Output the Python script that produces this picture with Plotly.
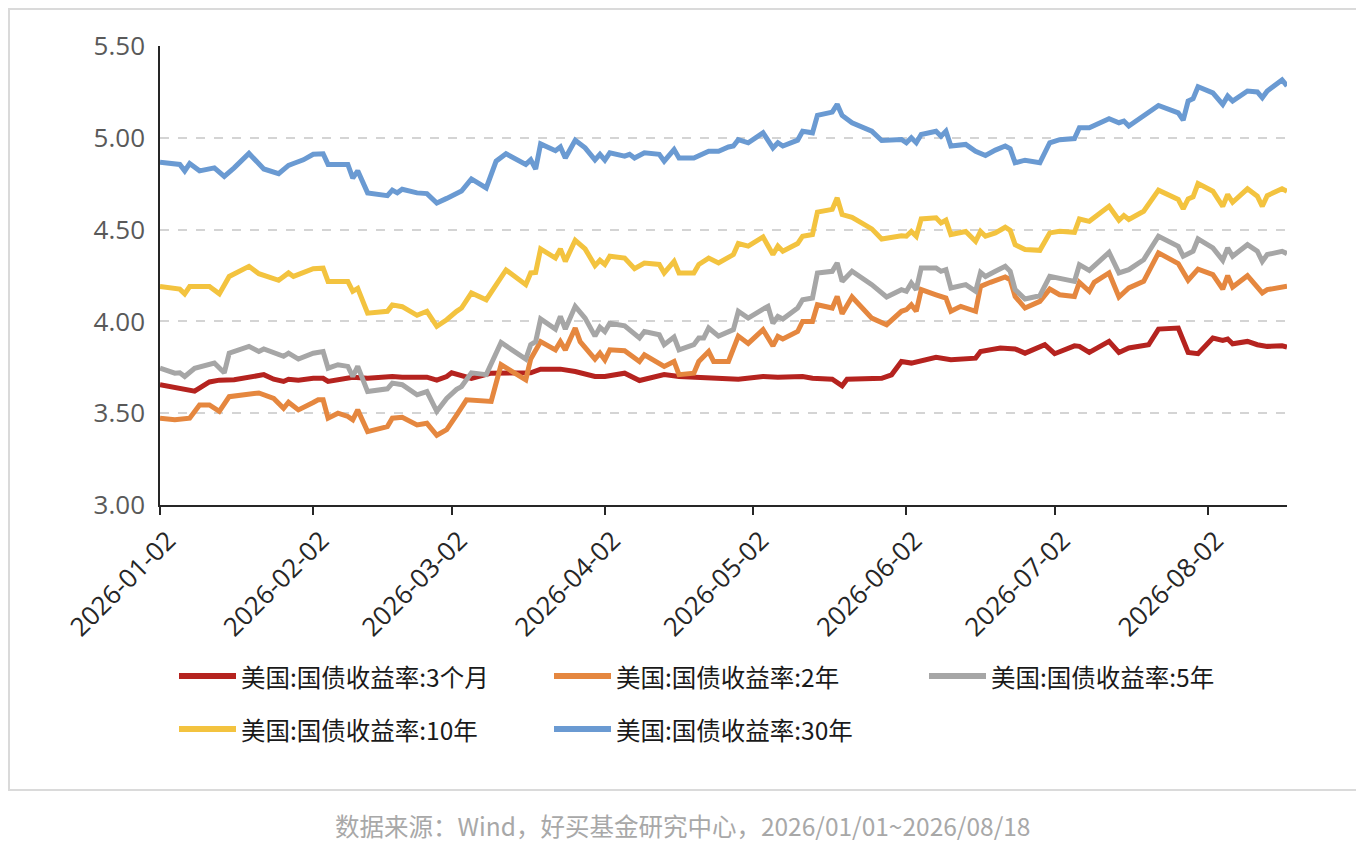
import plotly.graph_objects as go

# ---- data (US treasury yields, %) ----
dates_3m = ["2026-01-02", "2026-01-05", "2026-01-07", "2026-01-09", "2026-01-12", "2026-01-14",
            "2026-01-17", "2026-01-21", "2026-01-23", "2026-01-25", "2026-01-27", "2026-01-28",
            "2026-01-30", "2026-02-02", "2026-02-04", "2026-02-05", "2026-02-08", "2026-02-10",
            "2026-02-13", "2026-02-18", "2026-02-20", "2026-02-25", "2026-02-27", "2026-03-01",
            "2026-03-02", "2026-03-06", "2026-03-10", "2026-03-18", "2026-03-20", "2026-03-24",
            "2026-03-27", "2026-03-31", "2026-04-02", "2026-04-06", "2026-04-09", "2026-04-14",
            "2026-04-17", "2026-04-21", "2026-04-27", "2026-04-29", "2026-05-04", "2026-05-07",
            "2026-05-12", "2026-05-14", "2026-05-18", "2026-05-20", "2026-05-21", "2026-05-28",
            "2026-05-30", "2026-06-01", "2026-06-03", "2026-06-08", "2026-06-11", "2026-06-16",
            "2026-06-17", "2026-06-21", "2026-06-24", "2026-06-26", "2026-06-30", "2026-07-02",
            "2026-07-06", "2026-07-07", "2026-07-09", "2026-07-13", "2026-07-15", "2026-07-17",
            "2026-07-21", "2026-07-23", "2026-07-27", "2026-07-29", "2026-07-31", "2026-08-03",
            "2026-08-05", "2026-08-06", "2026-08-07", "2026-08-10", "2026-08-12", "2026-08-14",
            "2026-08-17", "2026-08-18"]
yld_3m = [3.655, 3.64, 3.627, 3.62, 3.67, 3.68,
          3.682, 3.70, 3.71, 3.685, 3.673, 3.685,
          3.68, 3.69, 3.69, 3.673, 3.685, 3.696,
          3.69, 3.70, 3.696, 3.696, 3.68, 3.70,
          3.72, 3.69, 3.718, 3.72, 3.74, 3.74,
          3.727, 3.70, 3.70, 3.718, 3.678, 3.71,
          3.70, 3.696, 3.685, 3.685, 3.70, 3.696,
          3.70, 3.69, 3.685, 3.649, 3.685, 3.69,
          3.709, 3.782, 3.773, 3.805, 3.791, 3.80,
          3.836, 3.855, 3.85, 3.827, 3.873, 3.824,
          3.867, 3.864, 3.831, 3.891, 3.831, 3.855,
          3.873, 3.958, 3.964, 3.831, 3.824, 3.909,
          3.896, 3.904, 3.878, 3.891, 3.873, 3.864,
          3.867, 3.86]

dates_2y = ["2026-01-02", "2026-01-05", "2026-01-08", "2026-01-10", "2026-01-12", "2026-01-14",
            "2026-01-16", "2026-01-19", "2026-01-22", "2026-01-25", "2026-01-27", "2026-01-28",
            "2026-01-30", "2026-02-02", "2026-02-03", "2026-02-04", "2026-02-05", "2026-02-07",
            "2026-02-09", "2026-02-10", "2026-02-11", "2026-02-13", "2026-02-17", "2026-02-18",
            "2026-02-20", "2026-02-23", "2026-02-25", "2026-02-27", "2026-03-01", "2026-03-03",
            "2026-03-05", "2026-03-10", "2026-03-12", "2026-03-17", "2026-03-18", "2026-03-20",
            "2026-03-23", "2026-03-24", "2026-03-25", "2026-03-27", "2026-03-28", "2026-03-31",
            "2026-04-01", "2026-04-02", "2026-04-03", "2026-04-06", "2026-04-09", "2026-04-10",
            "2026-04-14", "2026-04-16", "2026-04-17", "2026-04-20", "2026-04-21", "2026-04-23",
            "2026-04-24", "2026-04-27", "2026-04-29", "2026-05-01", "2026-05-04", "2026-05-06",
            "2026-05-07", "2026-05-08", "2026-05-11", "2026-05-12", "2026-05-14", "2026-05-15",
            "2026-05-18", "2026-05-19", "2026-05-20", "2026-05-22", "2026-05-26", "2026-05-29",
            "2026-06-01", "2026-06-02", "2026-06-03", "2026-06-04", "2026-06-05", "2026-06-08",
            "2026-06-10", "2026-06-11", "2026-06-13", "2026-06-16", "2026-06-17", "2026-06-19",
            "2026-06-22", "2026-06-23", "2026-06-24", "2026-06-26", "2026-06-29", "2026-07-01",
            "2026-07-03", "2026-07-06", "2026-07-07", "2026-07-09", "2026-07-10", "2026-07-13",
            "2026-07-15", "2026-07-17", "2026-07-20", "2026-07-23", "2026-07-27", "2026-07-29",
            "2026-07-31", "2026-08-03", "2026-08-05", "2026-08-06", "2026-08-07", "2026-08-10",
            "2026-08-13", "2026-08-14", "2026-08-17", "2026-08-18"]
yld_2y = [3.473, 3.464, 3.473, 3.545, 3.545, 3.51,
          3.59, 3.60, 3.61, 3.58, 3.527, 3.56,
          3.518, 3.558, 3.573, 3.573, 3.473, 3.50,
          3.482, 3.464, 3.518, 3.40, 3.427, 3.473,
          3.478, 3.436, 3.445, 3.38, 3.41, 3.49,
          3.573, 3.564, 3.764, 3.682, 3.795, 3.89,
          3.845, 3.89, 3.845, 3.964, 3.89, 3.795,
          3.827, 3.79, 3.845, 3.84, 3.782, 3.818,
          3.755, 3.782, 3.71, 3.718, 3.782, 3.836,
          3.782, 3.782, 3.92, 3.88, 3.955, 3.867,
          3.918, 3.904, 3.945, 4.00, 4.00, 4.091,
          4.073, 4.136, 4.042, 4.133, 4.018, 3.982,
          4.055, 4.064, 4.091, 4.055, 4.173, 4.145,
          4.127, 4.055, 4.082, 4.055, 4.191, 4.213,
          4.242, 4.227, 4.136, 4.073, 4.109, 4.176,
          4.145, 4.136, 4.213, 4.164, 4.213, 4.264,
          4.133, 4.182, 4.218, 4.373, 4.315, 4.224,
          4.285, 4.255, 4.176, 4.249, 4.187, 4.249,
          4.155, 4.173, 4.191, 4.191]

dates_5y = ["2026-01-02", "2026-01-05", "2026-01-06", "2026-01-07", "2026-01-09", "2026-01-13",
            "2026-01-15", "2026-01-16", "2026-01-20", "2026-01-22", "2026-01-23", "2026-01-27",
            "2026-01-28", "2026-01-30", "2026-02-02", "2026-02-04", "2026-02-05", "2026-02-07",
            "2026-02-09", "2026-02-10", "2026-02-11", "2026-02-13", "2026-02-17", "2026-02-18",
            "2026-02-20", "2026-02-23", "2026-02-25", "2026-02-27", "2026-03-01", "2026-03-03",
            "2026-03-04", "2026-03-06", "2026-03-09", "2026-03-12", "2026-03-17", "2026-03-18",
            "2026-03-19", "2026-03-20", "2026-03-23", "2026-03-24", "2026-03-25", "2026-03-27",
            "2026-03-29", "2026-03-31", "2026-04-01", "2026-04-02", "2026-04-03", "2026-04-06",
            "2026-04-09", "2026-04-10", "2026-04-13", "2026-04-14", "2026-04-16", "2026-04-17",
            "2026-04-20", "2026-04-21", "2026-04-22", "2026-04-23", "2026-04-25", "2026-04-28",
            "2026-04-29", "2026-05-01", "2026-05-04", "2026-05-05", "2026-05-06", "2026-05-07",
            "2026-05-08", "2026-05-11", "2026-05-12", "2026-05-14", "2026-05-15", "2026-05-18",
            "2026-05-19", "2026-05-20", "2026-05-22", "2026-05-26", "2026-05-29", "2026-06-01",
            "2026-06-02", "2026-06-03", "2026-06-04", "2026-06-05", "2026-06-08", "2026-06-09",
            "2026-06-10", "2026-06-11", "2026-06-14", "2026-06-16", "2026-06-17", "2026-06-18",
            "2026-06-20", "2026-06-22", "2026-06-23", "2026-06-24", "2026-06-26", "2026-06-29",
            "2026-07-01", "2026-07-06", "2026-07-07", "2026-07-09", "2026-07-13", "2026-07-15",
            "2026-07-17", "2026-07-20", "2026-07-23", "2026-07-27", "2026-07-28", "2026-07-30",
            "2026-07-31", "2026-08-03", "2026-08-05", "2026-08-06", "2026-08-07", "2026-08-10",
            "2026-08-12", "2026-08-13", "2026-08-14", "2026-08-17", "2026-08-18"]
yld_5y = [3.745, 3.718, 3.72, 3.70, 3.745, 3.773,
          3.72, 3.827, 3.864, 3.836, 3.85, 3.81,
          3.827, 3.795, 3.827, 3.836, 3.745, 3.764,
          3.755, 3.70, 3.755, 3.618, 3.633, 3.664,
          3.655, 3.60, 3.618, 3.51, 3.58, 3.63,
          3.645, 3.72, 3.71, 3.885, 3.795, 3.873,
          3.89, 4.013, 3.958, 4.027, 3.958, 4.082,
          4.018, 3.92, 3.969, 3.945, 3.99, 3.976,
          3.91, 3.945, 3.927, 3.873, 3.915, 3.845,
          3.873, 3.91, 3.91, 3.964, 3.92, 3.955,
          4.055, 4.018, 4.067, 4.082, 3.99, 4.027,
          4.013, 4.073, 4.118, 4.127, 4.264, 4.273,
          4.318, 4.218, 4.273, 4.20, 4.133, 4.173,
          4.164, 4.209, 4.173, 4.291, 4.291, 4.273,
          4.282, 4.182, 4.20, 4.164, 4.267, 4.245,
          4.273, 4.30, 4.273, 4.173, 4.122, 4.14,
          4.245, 4.218, 4.309, 4.278, 4.376, 4.264,
          4.282, 4.336, 4.464, 4.409, 4.355, 4.382,
          4.449, 4.40, 4.333, 4.40, 4.355, 4.418,
          4.382, 4.327, 4.364, 4.382, 4.369]

dates_10y = ["2026-01-02", "2026-01-05", "2026-01-06", "2026-01-07", "2026-01-08", "2026-01-12",
             "2026-01-14", "2026-01-16", "2026-01-20", "2026-01-22", "2026-01-23", "2026-01-26",
             "2026-01-28", "2026-01-29", "2026-02-02", "2026-02-04", "2026-02-05", "2026-02-09",
             "2026-02-10", "2026-02-11", "2026-02-13", "2026-02-17", "2026-02-18", "2026-02-20",
             "2026-02-23", "2026-02-25", "2026-02-27", "2026-03-01", "2026-03-03", "2026-03-04",
             "2026-03-06", "2026-03-09", "2026-03-13", "2026-03-17", "2026-03-18", "2026-03-19",
             "2026-03-20", "2026-03-23", "2026-03-24", "2026-03-25", "2026-03-27", "2026-03-29",
             "2026-03-31", "2026-04-01", "2026-04-02", "2026-04-03", "2026-04-06", "2026-04-08",
             "2026-04-10", "2026-04-13", "2026-04-14", "2026-04-16", "2026-04-17", "2026-04-20",
             "2026-04-21", "2026-04-23", "2026-04-25", "2026-04-28", "2026-04-29", "2026-05-01",
             "2026-05-04", "2026-05-06", "2026-05-07", "2026-05-08", "2026-05-11", "2026-05-12",
             "2026-05-14", "2026-05-15", "2026-05-18", "2026-05-19", "2026-05-20", "2026-05-22",
             "2026-05-26", "2026-05-28", "2026-06-01", "2026-06-02", "2026-06-03", "2026-06-04",
             "2026-06-05", "2026-06-08", "2026-06-09", "2026-06-10", "2026-06-11", "2026-06-14",
             "2026-06-16", "2026-06-17", "2026-06-18", "2026-06-20", "2026-06-22", "2026-06-23",
             "2026-06-24", "2026-06-26", "2026-06-29", "2026-07-01", "2026-07-03", "2026-07-06",
             "2026-07-07", "2026-07-09", "2026-07-13", "2026-07-15", "2026-07-16", "2026-07-17",
             "2026-07-20", "2026-07-23", "2026-07-27", "2026-07-28", "2026-07-29", "2026-07-30",
             "2026-07-31", "2026-08-03", "2026-08-05", "2026-08-06", "2026-08-07", "2026-08-10",
             "2026-08-12", "2026-08-13", "2026-08-14", "2026-08-17", "2026-08-18"]
yld_10y = [4.19, 4.176, 4.176, 4.15, 4.19, 4.19,
           4.15, 4.245, 4.30, 4.26, 4.25, 4.224,
           4.264, 4.245, 4.287, 4.29, 4.218, 4.218,
           4.164, 4.18, 4.045, 4.055, 4.09, 4.08,
           4.033, 4.055, 3.973, 4.009, 4.055, 4.073,
           4.155, 4.118, 4.28, 4.20, 4.264, 4.267,
           4.395, 4.345, 4.395, 4.327, 4.442, 4.395,
           4.304, 4.333, 4.31, 4.355, 4.345, 4.287,
           4.318, 4.31, 4.264, 4.327, 4.264, 4.264,
           4.31, 4.345, 4.318, 4.364, 4.424, 4.41,
           4.46, 4.364, 4.41, 4.382, 4.424, 4.464,
           4.473, 4.595, 4.61, 4.673, 4.582, 4.567,
           4.504, 4.449, 4.467, 4.464, 4.49, 4.464,
           4.558, 4.564, 4.536, 4.551, 4.473, 4.49,
           4.436, 4.49, 4.464, 4.482, 4.513, 4.496,
           4.418, 4.391, 4.387, 4.482, 4.491, 4.485,
           4.558, 4.545, 4.627, 4.551, 4.576, 4.555,
           4.60, 4.715, 4.664, 4.613, 4.667, 4.678,
           4.751, 4.709, 4.627, 4.691, 4.649, 4.722,
           4.682, 4.627, 4.685, 4.722, 4.709]

dates_30y = ["2026-01-02", "2026-01-06", "2026-01-07", "2026-01-08", "2026-01-10", "2026-01-13",
             "2026-01-15", "2026-01-17", "2026-01-20", "2026-01-23", "2026-01-26", "2026-01-28",
             "2026-01-29", "2026-01-31", "2026-02-02", "2026-02-04", "2026-02-05", "2026-02-09",
             "2026-02-10", "2026-02-11", "2026-02-13", "2026-02-17", "2026-02-18", "2026-02-19",
             "2026-02-20", "2026-02-23", "2026-02-25", "2026-02-27", "2026-03-01", "2026-03-03",
             "2026-03-04", "2026-03-06", "2026-03-09", "2026-03-11", "2026-03-13", "2026-03-17",
             "2026-03-18", "2026-03-19", "2026-03-20", "2026-03-23", "2026-03-24", "2026-03-25",
             "2026-03-27", "2026-03-29", "2026-03-31", "2026-04-01", "2026-04-02", "2026-04-03",
             "2026-04-06", "2026-04-07", "2026-04-08", "2026-04-10", "2026-04-13", "2026-04-14",
             "2026-04-16", "2026-04-17", "2026-04-20", "2026-04-23", "2026-04-25", "2026-04-27",
             "2026-04-28", "2026-04-29", "2026-05-01", "2026-05-04", "2026-05-06", "2026-05-07",
             "2026-05-08", "2026-05-11", "2026-05-12", "2026-05-14", "2026-05-15", "2026-05-18",
             "2026-05-19", "2026-05-20", "2026-05-22", "2026-05-26", "2026-05-28", "2026-06-01",
             "2026-06-02", "2026-06-03", "2026-06-04", "2026-06-05", "2026-06-08", "2026-06-09",
             "2026-06-10", "2026-06-11", "2026-06-14", "2026-06-16", "2026-06-18", "2026-06-20",
             "2026-06-22", "2026-06-23", "2026-06-24", "2026-06-26", "2026-06-29", "2026-07-01",
             "2026-07-03", "2026-07-06", "2026-07-07", "2026-07-09", "2026-07-13", "2026-07-15",
             "2026-07-16", "2026-07-17", "2026-07-23", "2026-07-27", "2026-07-28", "2026-07-29",
             "2026-07-30", "2026-07-31", "2026-08-03", "2026-08-05", "2026-08-06", "2026-08-07",
             "2026-08-10", "2026-08-12", "2026-08-13", "2026-08-14", "2026-08-17", "2026-08-18"]
yld_30y = [4.867, 4.855, 4.82, 4.86, 4.82, 4.836,
           4.79, 4.836, 4.915, 4.83, 4.805, 4.85,
           4.86, 4.88, 4.91, 4.913, 4.855, 4.855,
           4.78, 4.82, 4.70, 4.685, 4.715, 4.70,
           4.72, 4.70, 4.696, 4.645, 4.67, 4.70,
           4.71, 4.776, 4.727, 4.873, 4.913, 4.855,
           4.88, 4.83, 4.967, 4.93, 4.95, 4.89,
           4.987, 4.945, 4.88, 4.91, 4.878, 4.918,
           4.90, 4.91, 4.89, 4.918, 4.91, 4.873,
           4.936, 4.89, 4.89, 4.927, 4.927, 4.95,
           4.955, 4.99, 4.973, 5.027, 4.945, 4.973,
           4.955, 4.987, 5.036, 5.027, 5.122, 5.14,
           5.182, 5.122, 5.082, 5.036, 4.985, 4.991,
           4.973, 5.00, 4.973, 5.018, 5.036, 5.009,
           5.036, 4.955, 4.964, 4.927, 4.904, 4.933,
           4.955, 4.94, 4.864, 4.878, 4.864, 4.973,
           4.99, 4.996, 5.055, 5.055, 5.104, 5.082,
           5.091, 5.064, 5.176, 5.136, 5.096, 5.20,
           5.213, 5.278, 5.245, 5.182, 5.227, 5.20,
           5.255, 5.25, 5.218, 5.255, 5.315, 5.282]

names = ["美国:国债收益率:3个月", "美国:国债收益率:2年", "美国:国债收益率:5年",
         "美国:国债收益率:10年", "美国:国债收益率:30年"]
colors = ["#B5231F", "#E5873F", "#A6A6A6", "#F3C33F", "#6A9AD2"]
tick_dates = ["2026-01-02", "2026-02-02", "2026-03-02", "2026-04-02",
              "2026-05-02", "2026-06-02", "2026-07-02", "2026-08-02"]
source_text = "数据来源：Wind，好买基金研究中心，2026/01/01~2026/08/18"

series = [(dates_3m, yld_3m), (dates_2y, yld_2y), (dates_5y, yld_5y),
          (dates_10y, yld_10y), (dates_30y, yld_30y)]

# the page puts the figure 8px in from the top-left corner,
# so page pixel positions are shifted back by OFF
OFF = 8
W, H = 1364 - OFF, 846 - OFF
L, R, T, B = 160 - OFF, 1287 - OFF, 46 - OFF, 505 - OFF


def px_x(x):
    return (x - OFF - L) / (R - L)


def px_y(y):
    return (B - (y - OFF)) / (B - T)


fig = go.Figure()
for (d, v), name, color in zip(series, names, colors):
    fig.add_trace(go.Scatter(x=d, y=v, mode="lines", name=name,
                             line=dict(color=color, width=5),
                             showlegend=False))

# outer frame, hand-drawn legend with long line samples, source note
shapes = [dict(type="rect", xref="paper", yref="paper",
               x0=px_x(OFF + 1), x1=px_x(1357), y0=px_y(790), y1=px_y(OFF + 1),
               line=dict(color="#dadada", width=2), layer="below")]
annotations = []
legend_pos = [(177, 676), (552, 676), (927, 676), (177, 729), (552, 729)]
for (lx, ly), name, color in zip(legend_pos, names, colors):
    shapes.append(dict(type="line", xref="paper", yref="paper",
                       x0=px_x(lx + 2), x1=px_x(lx + 59), y0=px_y(ly), y1=px_y(ly),
                       line=dict(color=color, width=6)))
    annotations.append(dict(xref="paper", yref="paper", x=px_x(lx + 62), y=px_y(ly),
                            xanchor="left", yanchor="middle", showarrow=False,
                            text=name, font=dict(family="Noto Sans CJK SC", size=24.5,
                                                 color="#1a1a1a")))
annotations.append(dict(xref="paper", yref="paper", x=px_x(682), y=px_y(825),
                        xanchor="center", yanchor="middle", showarrow=False,
                        text=source_text,
                        font=dict(family="Noto Sans CJK SC", size=24.5, color="#a8a8a8")))

fig.update_layout(
    width=W, height=H,
    margin=dict(l=L, r=W - R, t=T, b=H - B),
    paper_bgcolor="white", plot_bgcolor="white",
    shapes=shapes, annotations=annotations,
    xaxis=dict(type="date", range=["2026-01-02", "2026-08-18"],
               tickvals=tick_dates, ticktext=tick_dates, tickangle=-45,
               ticks="outside", ticklen=8, tickwidth=1.5, tickcolor="#262626",
               showline=True, linecolor="#262626", linewidth=1.5,
               showgrid=False, zeroline=False, ticklabelshift=8,
               tickfont=dict(family="Open Sans", size=26, color="#262626")),
    yaxis=dict(range=[3, 5.5], dtick=0.5, tickformat=".2f",
               showline=True, linecolor="#262626", linewidth=1.5,
               showgrid=True, gridcolor="#d4d4d4", griddash="dash", gridwidth=1.5,
               zeroline=False, ticks="", ticklabelstandoff=8,
               tickfont=dict(family="Open Sans", size=26, color="#595959")),
)

fig.write_html("out.html")
